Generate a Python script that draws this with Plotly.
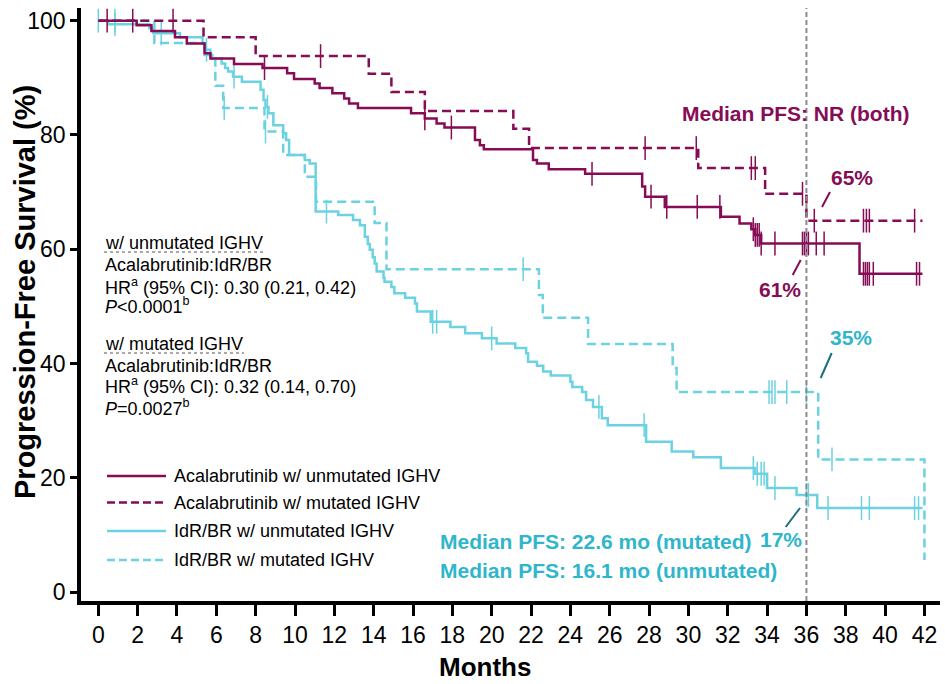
import plotly.graph_objects as go

# ---- Kaplan-Meier step data (months, % progression-free) ----
acala_unmut_t = [1.95, 2.7, 3.9, 4.5, 5.4, 5.7, 6.9, 8.35, 9.6, 9.95, 11.0, 11.25, 11.9, 12.5,
                 12.75, 13.2, 15.9, 16.6, 17.2, 17.6, 19.15, 19.4, 19.6, 22.1, 22.3, 22.9, 24.75,
                 27.65, 27.8, 28.8, 31.65, 32.6, 33.2, 33.4, 33.7, 38.7]
acala_unmut_s = [99.2, 98.2, 97.1, 96.0, 94.3, 93.4, 92.4, 91.7, 90.8, 89.8, 89.0, 88.2, 87.3, 86.4,
                 85.5, 84.7, 83.8, 82.9, 82.0, 81.3, 79.1, 78.2, 77.5, 75.6, 75.0, 74.0, 73.2,
                 71.0, 69.2, 67.4, 65.7, 64.5, 63.5, 62.5, 61.0, 55.7]
acala_unmut_end = 41.9
acala_unmut_cens = [0.45, 8.45, 16.6, 17.95, 25.1, 28.1, 28.9, 30.45, 31.6, 33.3, 33.4, 33.5, 33.6,
                    33.7, 34.4, 35.8, 35.9, 36.0, 36.1, 36.5, 36.9, 38.9, 39.0, 39.1, 39.2, 39.4,
                    41.6, 41.75]

acala_mut_t = [5.35, 8.0, 13.75, 14.9, 16.6, 21.1, 21.9, 30.5, 33.9, 36.0]
acala_mut_s = [97.1, 93.8, 90.7, 87.5, 84.2, 81.1, 77.7, 74.2, 69.7, 65.0]
acala_mut_end = 41.9
acala_mut_cens = [1.75, 3.8, 11.3, 27.8, 30.4, 33.2, 33.4, 35.8, 36.4, 38.9, 39.05, 39.2, 41.5]

idr_unmut_t = [0.5, 2.6, 2.8, 4.15, 5.3, 5.45, 5.7, 5.8, 6.27, 6.45, 6.6, 6.85, 7.3, 8.25, 8.4,
               8.5, 8.65, 8.9, 9.4, 9.55, 9.7, 10.5, 10.75, 11.05, 12.2, 12.95, 13.3, 13.55, 13.7,
               13.8, 13.95, 14.05, 14.15, 14.5, 14.55, 14.9, 15.05, 15.6, 16.1, 16.2, 16.9, 17.9,
               18.65, 19.5, 20.25, 21.2, 21.75, 21.85, 22.3, 22.62, 23.0, 24.0, 24.1, 24.6, 24.8,
               25.15, 25.6, 25.9, 27.85, 29.15, 30.25, 31.65, 33.4, 34.0, 35.5, 36.55]
idr_unmut_s = [99.4, 98.7, 97.8, 97.1, 96.0, 94.9, 94.0, 93.4, 92.5, 91.7, 91.1, 90.2, 89.3, 87.9,
               86.1, 84.9, 83.8, 81.7, 80.3, 79.1, 76.5, 75.6, 75.0, 66.6, 66.0, 65.1, 64.2, 62.2,
               60.9, 59.9, 58.6, 57.5, 56.1, 55.0, 54.3, 53.4, 52.3, 51.5, 50.5, 49.1, 47.3, 46.4,
               45.3, 44.4, 43.5, 42.7, 41.8, 40.3, 39.6, 38.6, 37.9, 36.8, 35.9, 35.0, 33.6, 32.4,
               30.4, 29.2, 26.3, 24.6, 23.6, 21.7, 20.7, 18.2, 17.0, 14.7]
idr_unmut_end = 41.9
idr_unmut_cens = [0.0, 0.85, 3.2, 5.5, 6.9, 8.6, 11.6, 17.0, 17.2, 20.0, 25.45, 27.75, 33.3, 33.5,
                  33.7, 33.85, 34.4, 36.0, 36.1, 37.1, 38.8, 39.2, 41.5, 41.7]

idr_mut_t = [2.85, 5.4, 5.95, 6.35, 8.45, 9.4, 10.5, 11.07, 14.05, 14.65, 22.4, 22.6, 24.9, 29.2,
             29.4, 36.6, 42.0]
idr_mut_s = [96.1, 94.0, 88.6, 84.7, 80.6, 76.5, 72.7, 68.3, 64.6, 56.5, 52.0, 48.0, 43.4, 39.2,
             35.0, 23.2, 5.6]
idr_mut_end = 42.0
idr_mut_cens = [0.85, 6.4, 8.5, 21.6, 34.1, 34.25, 34.4, 35.0, 36.0, 37.3]

x_ticks = list(range(0, 43, 2))
y_ticks = [0, 20, 40, 60, 80, 100]
landmark_month = 36

MAROON = "#850c55"
CYAN = "#6bd2e1"
CYAN_TEXT = "#2fb6ca"
TEAL_DARK = "#1d6f7b"
FONT = "Liberation Sans, Arial, sans-serif"

# plot-area geometry (pixels)
W_FIG, H_FIG = 945, 684
L, R, T, B = 81, 940, 8, 601


def px(xpix):
    return (xpix - L) / (R - L)


def py(ypix):
    return (B - ypix) / (B - T)


def step_series(times, survs, end):
    xs = [0.0] + list(times)
    ys = [100.0] + list(survs)
    if end > xs[-1]:
        xs.append(end)
        ys.append(ys[-1])
    return xs, ys


def surv_at(times, survs, t):
    s = 100.0
    for ti, si in zip(times, survs):
        if ti <= t:
            s = si
    return s


curves = [
    ("IdR/BR w/ mutated IGHV", idr_mut_t, idr_mut_s, idr_mut_end, idr_mut_cens, CYAN, "9px,5px"),
    ("IdR/BR w/ unmutated IGHV", idr_unmut_t, idr_unmut_s, idr_unmut_end, idr_unmut_cens, CYAN, "solid"),
    ("Acalabrutinib w/ mutated IGHV", acala_mut_t, acala_mut_s, acala_mut_end, acala_mut_cens, MAROON, "9px,5px"),
    ("Acalabrutinib w/ unmutated IGHV", acala_unmut_t, acala_unmut_s, acala_unmut_end, acala_unmut_cens, MAROON, "solid"),
]

fig = go.Figure()
for name, t, s, end, cens, color, dash in curves:
    xs, ys = step_series(t, s, end)
    fig.add_trace(go.Scatter(x=xs, y=ys, mode="lines", name=name,
                             line=dict(color=color, width=2.5, dash=dash, shape="hv"),
                             showlegend=False, hoverinfo="skip"))
    fig.add_trace(go.Scatter(x=cens, y=[surv_at(t, s, c) for c in cens], mode="markers",
                             marker=dict(symbol="line-ns", size=17,
                                         line=dict(color=color, width=1.5)),
                             showlegend=False, hoverinfo="skip"))

shapes = []
annotations = []

# landmark line at 36 months
shapes.append(dict(type="line", xref="x", yref="paper", x0=landmark_month, x1=landmark_month,
                   y0=0, y1=1, line=dict(color="#8a8a8a", width=2, dash="5px,3px")))

# legend drawn by hand
legend_rows = [
    ("Acalabrutinib w/ unmutated IGHV", MAROON, "solid", 476),
    ("Acalabrutinib w/ mutated IGHV", MAROON, "8px,4px", 502.5),
    ("IdR/BR w/ unmutated IGHV", CYAN, "solid", 531),
    ("IdR/BR w/ mutated IGHV", CYAN, "8px,4px", 560),
]
for label, color, dash, yy in legend_rows:
    shapes.append(dict(type="line", xref="paper", yref="paper", x0=px(107), x1=px(166),
                       y0=py(yy), y1=py(yy), line=dict(color=color, width=2.5, dash=dash)))
    annotations.append(dict(text=label, xref="paper", yref="paper", x=px(172), y=py(yy),
                            xanchor="left", yanchor="middle", showarrow=False,
                            font=dict(family=FONT, size=18, color="black")))

# hazard-ratio text block
hr_lines = [
    ("w/ unmutated IGHV", 243),
    ("Acalabrutinib:IdR/BR", 265),
    ("HR<sup>a</sup> (95% CI): 0.30 (0.21, 0.42)", 286),
    ("<i>P</i>&lt;0.0001<sup>b</sup>", 305),
    ("w/ mutated IGHV", 344),
    ("Acalabrutinib:IdR/BR", 366),
    ("HR<sup>a</sup> (95% CI): 0.32 (0.14, 0.70)", 386),
    ("<i>P</i>=0.0027<sup>b</sup>", 407),
]
for txt, yy in hr_lines:
    annotations.append(dict(text=txt, xref="paper", yref="paper", x=px(103), y=py(yy),
                            xanchor="left", yanchor="middle", showarrow=False,
                            font=dict(family=FONT, size=18, color="black")))
for x_end, yy in [(264, 252), (244, 353)]:
    shapes.append(dict(type="line", xref="paper", yref="paper", x0=px(104), x1=px(x_end),
                       y0=py(yy), y1=py(yy), line=dict(color="#555555", width=1, dash="dot")))

# median PFS and landmark labels
bold = dict(family=FONT, size=21)
annotations += [
    dict(text="<b>Median PFS: NR (both)</b>", x=px(795), y=py(114), xanchor="center",
         font=dict(**bold, color=MAROON)),
    dict(text="<b>65%</b>", x=px(852), y=py(178), xanchor="center", font=dict(**bold, color=MAROON)),
    dict(text="<b>61%</b>", x=px(780), y=py(289), xanchor="center", font=dict(**bold, color=MAROON)),
    dict(text="<b>35%</b>", x=px(851), y=py(337), xanchor="center", font=dict(**bold, color=CYAN_TEXT)),
    dict(text="<b>17%</b>", x=px(781), y=py(539), xanchor="center", font=dict(**bold, color=CYAN_TEXT)),
    dict(text="<b>Median PFS: 22.6 mo (mutated)</b>", x=px(438), y=py(541), xanchor="left",
         font=dict(**bold, color=CYAN_TEXT)),
    dict(text="<b>Median PFS: 16.1 mo (unmutated)</b>", x=px(438), y=py(570), xanchor="left",
         font=dict(**bold, color=CYAN_TEXT)),
    dict(text="<b>Months</b>", x=px(485), y=py(667), xanchor="center",
         font=dict(family=FONT, size=26, color="black")),
    dict(text="<b>Progression-Free Survival (%)</b>", x=px(25), y=py(292), xanchor="center",
         textangle=-90, font=dict(family=FONT, size=29, color="black")),
]
for a in annotations:
    a.setdefault("xref", "paper")
    a.setdefault("yref", "paper")
    a.setdefault("yanchor", "middle")
    a.setdefault("showarrow", False)

# leader lines to the landmark labels
for (x0, y0, x1, y1, c) in [(830, 192, 822, 207, MAROON), (800.7, 260, 792.7, 275, MAROON),
                            (831.7, 353, 820.7, 378, TEAL_DARK), (800, 508, 785.7, 527, TEAL_DARK)]:
    shapes.append(dict(type="line", xref="paper", yref="paper", x0=px(x0), y0=py(y0),
                       x1=px(x1), y1=py(y1), line=dict(color=c, width=2)))

px_per_month = 19.67
px_per_pct = 5.713
x0_val = -(98.3 - L) / px_per_month
y0_val = -(B - 592) / px_per_pct

fig.update_layout(
    width=W_FIG, height=H_FIG,
    margin=dict(l=L, r=W_FIG - R, t=T, b=H_FIG - B, pad=0),
    paper_bgcolor="white", plot_bgcolor="white",
    shapes=shapes, annotations=annotations, showlegend=False,
    xaxis=dict(range=[x0_val, x0_val + (R - L) / px_per_month], tickvals=x_ticks,
               showline=True, linecolor="black", linewidth=3.5, ticks="outside", ticklen=11,
               tickwidth=3, tickcolor="black", showgrid=False, zeroline=False,
               tickfont=dict(family=FONT, size=23, color="black")),
    yaxis=dict(range=[y0_val, y0_val + (B - T) / px_per_pct], tickvals=y_ticks,
               showline=True, linecolor="black", linewidth=3.5, ticks="outside", ticklen=7,
               tickwidth=3, tickcolor="black", showgrid=False, zeroline=False,
               tickfont=dict(family=FONT, size=23, color="black")),
)

fig.write_html("out.html")
